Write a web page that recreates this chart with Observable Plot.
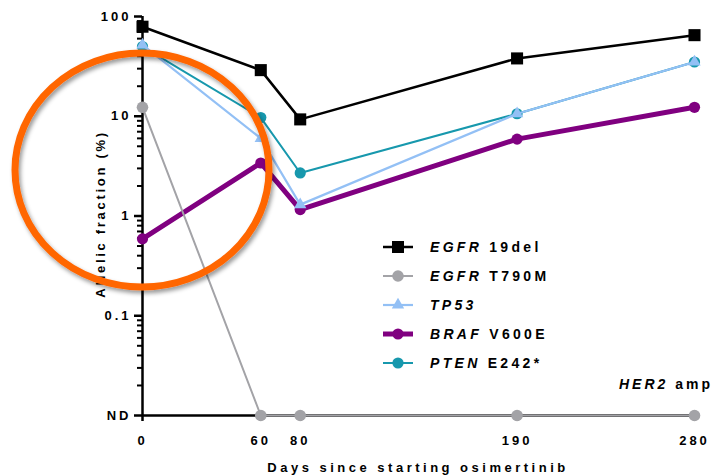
<!DOCTYPE html>
<html><head><meta charset="utf-8">
<script src="https://cdn.jsdelivr.net/npm/d3@7"></script>
<script src="https://cdn.jsdelivr.net/npm/@observablehq/plot@0.6"></script>
<style>
html,body{margin:0;padding:0;background:#fff;}
#chart{width:712px;height:476px;}
#chart svg text{font-family:"Liberation Sans",Arial,sans-serif;font-weight:bold;}
#chart svg [aria-label="y-axis tick label"] text{letter-spacing:3px;}
#chart svg [aria-label="x-axis tick label"] text{letter-spacing:3px;}
</style></head><body><div id="chart"></div>
<script>
// ---- data ----
const days = [0, 60, 80, 190, 280];
const ND = 0.01; // "not detected" plotted on the bottom line
const geneNames = ["EGFR", "EGFR", "TP53", "BRAF", "PTEN"];
const variantNames = ["19del", "T790M", "", "V600E", "E242*"];
const egfr19del = [79, 29, 9.3, 38, 65];
const egfrT790M = [12.3, ND, ND, ND, ND];
const tp53 = [52, 6.0, 1.3, 10.6, 35];
const brafV600E = [0.59, 3.4, 1.16, 5.9, 12.3];
const ptenE242 = [50, 9.7, 2.7, 10.6, 35];
const yTicks = [0.01, 0.1, 1, 10, 100];
const yTickLabels = ["ND", "0.1", "1", "10", "100"];
const xTicks = [0, 60, 80, 190, 280];
const noteGene = "HER2";
const noteRest = " amp";
const xTitle = "Days since starting osimertinib";
const yTitle = "Allelic fraction (%)";

// ---- styles ----
const seriesValues = [egfr19del, egfrT790M, tp53, brafV600E, ptenE242];
const colors = ["#000000", "#a3a3a7", "#93c0f5", "#800080", "#1798ad"];
const symbols = ["square", "circle", "triangle", "circle", "circle"];
const lineWidths = [2.5, 2, 2.2, 5, 2];
const dotR = [6.8, 5.8, 4.6, 5.6, 5.6];

const series = seriesValues.map((vals, s) => ({
  gene: geneNames[s], variant: variantNames[s], color: colors[s],
  symbol: symbols[s], width: lineWidths[s], r: dotR[s],
  rows: vals.map((v, i) => ({day: days[i], value: v}))
}));

const minorTicks = [];
for (const dec of [0.01, 0.1, 1, 10]) for (let k = 2; k <= 9; k++) minorTicks.push(+(k * dec).toPrecision(3));

const marks = [
  Plot.ruleY([ND], {stroke: "#000", strokeWidth: 2.5}),
  Plot.ruleX([0], {stroke: "#000", strokeWidth: 2.5}),
  Plot.axisY(minorTicks, {tickSize: 5, tickFormat: () => "", strokeWidth: 2, label: null}),
  Plot.axisY(yTicks, {tickSize: 8, tickPadding: 3, tickFormat: d => yTickLabels[yTicks.indexOf(d)], fontSize: 13, fontWeight: "bold", strokeWidth: 2.5, label: null}),
  Plot.axisX(xTicks, {tickSize: 6, tickPadding: 14, fontSize: 13, fontWeight: "bold", strokeWidth: 2.5, label: null})
];
for (const s of series.slice().reverse()) {
  marks.push(Plot.line(s.rows, {x: "day", y: "value", stroke: s.color, strokeWidth: s.width}));
  marks.push(Plot.dot(s.rows, {x: "day", y: "value", fill: s.color, stroke: "none", symbol: s.symbol, r: s.r}));
}

const plot = Plot.plot({
  width: 712, height: 476,
  marginLeft: 142, marginRight: 18, marginTop: 16, marginBottom: 61,
  x: {domain: [0, 280]},
  y: {type: "log", domain: [0.01, 100]},
  style: {background: "white", overflow: "visible", fontFamily: "Liberation Sans, Arial, sans-serif"},
  marks
});
document.getElementById("chart").appendChild(plot);

const svg = d3.select(plot);
const xs = plot.scale("x"), ys = plot.scale("y");

// axis titles
svg.append("text").attr("x", 418).attr("y", 472).attr("text-anchor", "middle")
  .attr("font-size", 13).style("letter-spacing", "3.5px").attr("fill", "#000").text(xTitle);
svg.append("text").attr("transform", "translate(105,214) rotate(-90)").attr("text-anchor", "middle")
  .attr("font-size", 13).style("letter-spacing", "2.7px").attr("fill", "#000").text(yTitle);

// legend
const lg = svg.append("g");
series.forEach((s, i) => {
  const y = 247 + i * 29;
  lg.append("line").attr("x1", 383).attr("x2", 413).attr("y1", y).attr("y2", y)
    .attr("stroke", s.color).attr("stroke-width", s.width);
  lg.append("path").attr("transform", `translate(398,${y})`)
    .attr("d", d3.symbol(s.symbol === "square" ? d3.symbolSquare : s.symbol === "triangle" ? d3.symbolTriangle : d3.symbolCircle, Math.PI * s.r * s.r)())
    .attr("fill", s.color);
  const t = lg.append("text").attr("x", 430).attr("y", y + 5).attr("font-size", 14)
    .attr("text-anchor", "start").style("letter-spacing", "3.3px").attr("fill", "#000");
  t.append("tspan").attr("font-style", "italic").text(s.gene);
  if (s.variant) t.append("tspan").text(" " + s.variant);
});
const note = svg.append("text").attr("x", 713).attr("y", 389).attr("text-anchor", "end")
  .attr("font-size", 14).style("letter-spacing", "3px").attr("fill", "#000");
note.append("tspan").attr("font-style", "italic").text(noteGene);
note.append("tspan").text(noteRest);

// orange highlight ellipse
const defs = svg.append("defs");
const f = defs.append("filter").attr("id", "shadow").attr("x", "-20%").attr("y", "-20%").attr("width", "140%").attr("height", "140%");
f.append("feDropShadow").attr("dx", 2).attr("dy", 3).attr("stdDeviation", 2).attr("flood-color", "#000").attr("flood-opacity", 0.4);
const circleDay = 0, circleValue = 2.86;
svg.append("ellipse").attr("cx", xs.apply(circleDay)).attr("cy", ys.apply(circleValue))
  .attr("rx", 127).attr("ry", 117).attr("fill", "none").attr("stroke", "#ff6600")
  .attr("stroke-width", 7).attr("filter", "url(#shadow)");
</script></body></html>
